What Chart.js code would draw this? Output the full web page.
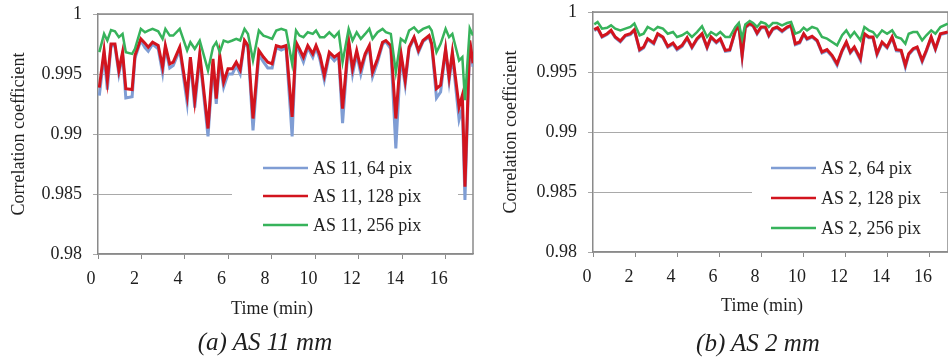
<!DOCTYPE html>
<html><head><meta charset="utf-8">
<script src="https://cdn.jsdelivr.net/npm/chart.js@4.4.0/dist/chart.umd.min.js"></script>
<style>
html,body{margin:0;padding:0;background:#fff;width:948px;height:360px;overflow:hidden;position:relative;}
.box{position:absolute;top:0;width:474px;height:320px;}
#boxA{left:0}
#boxB{left:474px}
.lbl{position:absolute;font-family:"Liberation Serif","Times New Roman",serif;color:#1e1e1e;white-space:nowrap;transform:translate(-50%,-50%);}
.cap{font-style:italic;font-size:25px;}
.xt{font-size:18px;}
</style></head><body>
<div class="box" id="boxA"><canvas id="cA" width="474" height="320" style="width:474px;height:320px"></canvas></div>
<div class="box" id="boxB"><canvas id="cB" width="474" height="320" style="width:474px;height:320px"></canvas></div>
<div class="lbl xt" style="left:272px;top:308px">Time (min)</div>
<div class="lbl xt" style="left:762px;top:305px">Time (min)</div>
<div class="lbl cap" style="left:265px;top:342px">(a) AS 11 mm</div>
<div class="lbl cap" style="left:758px;top:343px">(b) AS 2 mm</div>
<script>
// ---------- DATA ----------
const timeA = [0.06,0.28,0.43,0.60,0.78,0.96,1.13,1.28,1.57,1.70,
 1.97,2.16,2.31,2.51,2.77,2.97,3.10,3.30,3.46,3.76,
 4.10,4.25,4.45,4.68,5.06,5.29,5.44,5.60,5.78,5.98,
 6.18,6.36,6.54,6.74,6.90,7.13,7.40,7.61,7.81,8.01,
 8.20,8.43,8.65,8.93,9.11,9.27,9.45,9.65,9.88,10.03,
 10.21,10.41,10.64,10.87,11.07,11.25,11.53,11.71,11.90,12.09,
 12.29,12.48,12.63,12.86,13.09,13.24,13.47,13.70,13.93,14.13,
 14.31,14.54,14.74,14.95,15.23,15.35,15.57,15.76,15.99,16.15,
 16.30,16.61,16.76,16.88,17.10,17.25];
const as11_64 = [.99320,.99660,.99370,.99740,.99730,.99500,.99660,.99300,.99310,.99630,
 .99780,.99720,.99690,.99750,.99710,.99510,.99720,.99550,.99570,.99700,
 .99260,.99620,.99220,.99640,.98980,.99580,.99250,.99600,.99390,.99500,
 .99500,.99570,.99500,.99770,.99720,.99030,.99660,.99600,.99550,.99550,
 .99720,.99700,.99720,.98980,.99750,.99680,.99600,.99720,.99640,.99720,
 .99620,.99450,.99660,.99610,.99650,.99090,.99770,.99500,.99670,.99500,
 .99650,.99720,.99480,.99600,.99750,.99770,.99710,.98880,.99650,.99410,
 .99710,.99800,.99680,.99770,.99810,.99740,.99300,.99350,.99700,.99440,
 .99660,.99120,.99220,.98450,.99760,.99560];
const as11_128 = [.99386,.99696,.99447,.99751,.99751,.99530,.99682,.99378,.99370,.99655,
 .99793,.99757,.99724,.99765,.99737,.99558,.99737,.99585,.99599,.99724,
 .99323,.99641,.99281,.99668,.99046,.99627,.99295,.99655,.99433,.99544,
 .99544,.99599,.99536,.99779,.99737,.99129,.99696,.99641,.99599,.99585,
 .99737,.99724,.99737,.99143,.99765,.99710,.99641,.99737,.99668,.99737,
 .99655,.99489,.99682,.99641,.99668,.99212,.99779,.99544,.99696,.99544,
 .99668,.99737,.99516,.99627,.99765,.99779,.99737,.99129,.99682,.99447,
 .99724,.99807,.99696,.99779,.99820,.99751,.99378,.99406,.99710,.99475,
 .99682,.99226,.99323,.98560,.99780,.99590];
const as11_256 = [.99682,.99834,.99779,.99867,.99856,.99807,.99834,.99682,.99668,.99710,
 .99876,.99848,.99862,.99876,.99856,.99793,.99876,.99820,.99820,.99876,
 .99696,.99765,.99710,.99779,.99530,.99724,.99765,.99682,.99779,.99765,
 .99779,.99793,.99779,.99876,.99834,.99613,.99862,.99820,.99807,.99793,
 .99862,.99876,.99862,.99585,.99862,.99820,.99807,.99848,.99834,.99862,
 .99807,.99807,.99848,.99807,.99848,.99599,.99876,.99779,.99848,.99793,
 .99834,.99876,.99793,.99848,.99876,.99848,.99834,.99516,.99793,.99765,
 .99862,.99889,.99848,.99876,.99895,.99862,.99682,.99751,.99876,.99807,
 .99834,.99613,.99641,.99281,.99880,.99820];

const timeB = [0.06,0.22,0.43,0.67,0.86,1.06,1.30,1.54,1.78,1.97,
 2.22,2.41,2.60,2.89,3.08,3.33,3.56,3.81,4.00,4.24,
 4.48,4.71,4.95,5.19,5.43,5.62,5.87,6.06,6.30,6.51,
 6.78,6.94,7.10,7.25,7.46,7.62,7.81,8.00,8.21,8.37,
 8.56,8.76,9.00,9.24,9.43,9.63,9.84,10.03,10.19,10.43,
 10.67,10.90,11.14,11.38,11.62,11.86,12.06,12.25,12.44,12.73,
 12.92,13.13,13.33,13.52,13.76,14.00,14.24,14.44,14.67,14.87,
 15.03,15.24,15.43,15.67,15.87,16.10,16.30,16.54,16.89];
const as2_64 = [.99845,.99862,.99790,.99812,.99840,.99785,.99750,.99800,.99812,.99846,
 .99678,.99700,.99770,.99733,.99812,.99785,.99705,.99733,.99685,.99714,
 .99780,.99700,.99770,.99812,.99700,.99785,.99742,.99770,.99672,.99678,
 .99840,.99883,.99628,.99868,.99897,.99882,.99817,.99868,.99868,.99798,
 .99854,.99868,.99835,.99868,.99882,.99727,.99742,.99812,.99770,.99790,
 .99756,.99658,.99677,.99630,.99555,.99672,.99742,.99658,.99700,.99598,
 .99812,.99785,.99785,.99643,.99742,.99700,.99785,.99677,.99672,.99540,
 .99644,.99686,.99700,.99585,.99672,.99785,.99686,.99812,.99826];
const as2_128 = [.99853,.99869,.99797,.99819,.99847,.99792,.99758,.99806,.99819,.99853,
 .99686,.99708,.99778,.99742,.99819,.99792,.99714,.99742,.99694,.99722,
 .99786,.99708,.99778,.99819,.99708,.99792,.99750,.99778,.99681,.99686,
 .99847,.99889,.99639,.99875,.99903,.99889,.99825,.99875,.99875,.99806,
 .99861,.99875,.99842,.99875,.99889,.99736,.99750,.99819,.99778,.99797,
 .99764,.99667,.99686,.99639,.99569,.99681,.99750,.99667,.99708,.99611,
 .99819,.99792,.99792,.99653,.99750,.99708,.99792,.99686,.99681,.99556,
 .99653,.99694,.99708,.99597,.99681,.99792,.99694,.99819,.99833];
const as2_256 = [.99897,.99917,.99861,.99869,.99889,.99861,.99847,.99861,.99875,.99903,
 .99806,.99819,.99875,.99847,.99875,.99861,.99819,.99833,.99792,.99806,
 .99833,.99792,.99833,.99881,.99792,.99833,.99806,.99833,.99792,.99792,
 .99875,.99908,.99778,.99897,.99925,.99908,.99875,.99917,.99903,.99875,
 .99908,.99908,.99889,.99908,.99917,.99819,.99833,.99869,.99847,.99875,
 .99861,.99792,.99778,.99750,.99722,.99806,.99847,.99792,.99833,.99764,
 .99875,.99847,.99833,.99792,.99847,.99819,.99847,.99792,.99778,.99736,
 .99819,.99833,.99833,.99764,.99806,.99847,.99819,.99875,.99903];

const namesA = ['AS 11, 64 pix','AS 11, 128 pix','AS 11, 256 pix'];
const namesB = ['AS 2, 64 pix','AS 2, 128 pix','AS 2, 256 pix'];
const xTickValues = [0,2,4,6,8,10,12,14,16];
const yTickValues = [0.98,0.985,0.99,0.995,1];
const yTickLabels = ['0.98','0.985','0.99','0.995','1'];
const yTitle = 'Correlation coefficient';

// ---------- STYLE ----------
const COLORS = ['#7f9dd4','#d2141e','#37b35b'];
const FONT = '"Liberation Serif","Times New Roman",serif';
const TXT = '#1e1e1e';
const AXIS = '#8a8a8a';
const GRID = '#a9a9a9';

const boxPlugin = {
  id:'plotBox',
  beforeDatasetsDraw(chart, args, o){
    const {ctx, chartArea:a} = chart;
    ctx.save();
    ctx.fillStyle = '#fff';
    ctx.fillRect(o.bx, o.by, o.bw, o.bh);
    ctx.strokeStyle = AXIS; ctx.lineWidth = 1.5;
    ctx.beginPath();
    ctx.moveTo(a.left, a.top); ctx.lineTo(a.right, a.top); ctx.lineTo(a.right, a.bottom);
    ctx.stroke();
    ctx.font = '18px ' + FONT;
    ctx.textBaseline = 'middle';
    chart.data.datasets.forEach((ds, i) => {
      const y = o.rows[i];
      ctx.strokeStyle = ds.borderColor; ctx.lineWidth = 2.5;
      ctx.beginPath(); ctx.moveTo(o.lx0, y); ctx.lineTo(o.lx1, y); ctx.stroke();
      ctx.fillStyle = TXT;
      ctx.fillText(ds.label, o.tx, y + 1);
    });
    ctx.restore();
  }
};

function build(id, time, series, names, xmax, lay, leg){
  const datasets = series.map((s, i) => ({
    label: names[i],
    data: time.map((t, k) => ({x: t, y: s[k]})),
    borderColor: COLORS[i],
    backgroundColor: COLORS[i],
    borderWidth: i === 2 ? 2.5 : 3,
    pointRadius: 0,
    tension: 0,
    order: 2 - i
  }));
  return new Chart(document.getElementById(id), {
    type: 'line',
    data: {datasets},
    plugins: [boxPlugin],
    options: {
      responsive: false,
      animation: false,
      events: [],
      layout: {autoPadding: false, padding: {top: lay.top, right: lay.right, left: 0, bottom: 0}},
      plugins: {legend: {display: false}, tooltip: {enabled: false}, plotBox: leg},
      scales: {
        x: {
          type: 'linear', min: 0, max: xmax,
          afterBuildTicks: s => { s.ticks = xTickValues.map(v => ({value: v})); },
          afterFit: s => { s.height = lay.xh; s.paddingLeft = 0; s.paddingRight = 0; },
          ticks: {font: {family: FONT, size: 18}, color: TXT, padding: 9, maxRotation: 0, autoSkip: false, labelOffset: lay.lo},
          grid: {drawOnChartArea: false, drawTicks: true, tickLength: 5, color: AXIS, lineWidth: 1},
          border: {color: AXIS, width: 1.5}
        },
        y: {
          min: 0.98, max: 1,
          afterBuildTicks: s => { s.ticks = yTickValues.map(v => ({value: v})); },
          afterFit: s => { s.width = lay.yw; s.paddingTop = 0; s.paddingBottom = 0; },
          ticks: {font: {family: FONT, size: 18}, color: TXT, padding: 11,
            callback: v => { const k = yTickValues.findIndex(t => Math.abs(t - v) < 1e-9); return k >= 0 ? yTickLabels[k] : ''; }},
          grid: {color: GRID, lineWidth: 1, tickLength: 5},
          border: {color: AXIS, width: 1.5},
          title: {display: true, text: yTitle, font: {family: FONT, size: 18}, color: TXT, padding: {top: lay.tp, bottom: 0}}
        }
      }
    }
  });
}

build('cA', timeA, [as11_64, as11_128, as11_256], namesA, 17.25,
  {top: 14, right: 1, xh: 66, yw: 98, tp: 8, lo: -7},
  {bx: 232, by: 142, bw: 226, bh: 106, lx0: 263, lx1: 308, tx: 313, rows: [168, 196, 225]});
build('cB', timeB, [as2_64, as2_128, as2_256], namesB, 16.9,
  {top: 12, right: 0, xh: 68, yw: 119, tp: 26, lo: -6},
  {bx: 278, by: 142, bw: 188, bh: 106, lx0: 297, lx1: 342, tx: 347, rows: [168, 198, 228]});
</script>
</body></html>
